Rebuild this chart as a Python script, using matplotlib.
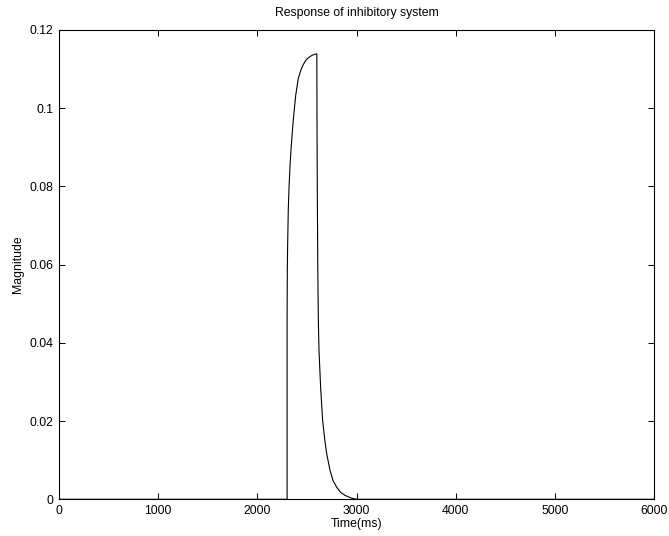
import numpy as np
import matplotlib as mpl
mpl.use("agg")
import matplotlib.pyplot as plt

t_ms = [0, 2300, 2300, 2302, 2305, 2312, 2320, 2330, 2340, 2350, 2360, 2370,
        2387, 2413, 2440, 2460, 2490, 2520, 2550, 2580, 2600,
        2600, 2602, 2605, 2610, 2615, 2622, 2638, 2659, 2680, 2699, 2733,
        2765, 2800, 2840, 2884, 2950, 3000, 6000]
mag = [0, 0, 0.045, 0.0573, 0.064, 0.074, 0.080, 0.0855, 0.0895, 0.093, 0.0962, 0.099,
       0.1033, 0.1076, 0.1098, 0.111, 0.1123, 0.113, 0.1135, 0.1138, 0.1139,
       0.1139, 0.095, 0.078, 0.058, 0.046, 0.038, 0.0287, 0.020, 0.0152, 0.0117, 0.0074,
       0.0047, 0.0031, 0.0018, 0.001, 0.0003, 0.0, 0.0]

xticks = [0, 1000, 2000, 3000, 4000, 5000, 6000]
yticks = [0, 0.02, 0.04, 0.06, 0.08, 0.1, 0.12]
yticklabels = ["0", "0.02", "0.04", "0.06", "0.08", "0.1", "0.12"]

plt.rcParams["font.family"] = ["Liberation Sans", "DejaVu Sans"]
plt.rcParams["font.size"] = 8.8

fig = plt.figure(figsize=(6.69, 5.36), dpi=100)
ax = fig.add_axes([59/669, 1-499.3/536, (654-59)/669, (499.3-30)/536])
ax.plot(t_ms, mag, color="black", lw=0.8)

ax.set_xlim(0, 6000)
ax.set_ylim(0, 0.12)
ax.set_xticks(xticks)
ax.set_xticklabels([str(v) for v in xticks])
ax.set_yticks(yticks)
ax.set_yticklabels(yticklabels)
ax.tick_params(direction="in", length=4, width=0.7, top=True, right=True, pad=4)
for sp in ax.spines.values():
    sp.set_linewidth(0.8)

ax.set_title("Response of inhibitory system", fontsize=8.8, pad=10)
ax.set_xlabel("Time(ms)", labelpad=1)
ax.set_ylabel("Magnitude", labelpad=4)

fig.savefig("out.png", dpi=100)
